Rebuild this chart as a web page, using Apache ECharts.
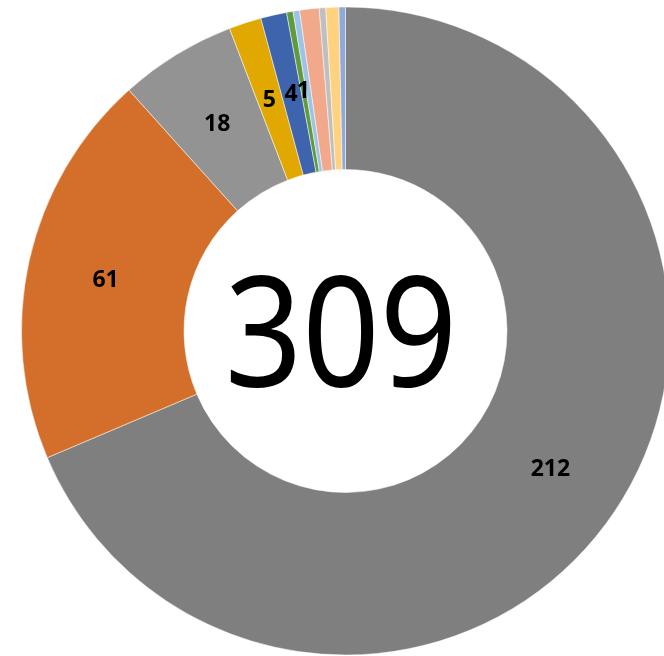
<!DOCTYPE html>
<html>
<head>
<meta charset="utf-8">
<script src="https://cdn.jsdelivr.net/npm/echarts@6/dist/echarts.min.js"></script>
<style>
html,body{margin:0;padding:0;background:#fff;}
#chart{width:664px;height:656px;}
</style>
</head>
<body>
<div id="chart"></div>
<script>
// Slices, clockwise from 12 o'clock
const categories = ['A', 'B', 'C', 'D', 'E', 'F', 'G', 'H', 'I', 'J', 'K'];
const values = [212, 61, 18, 5, 4, 1, 1, 3, 1, 2, 1];
const showLabel = [true, true, true, true, true, true, false, false, false, false, false];
const colors = ['#7F7F7F', '#D36F2B', '#939393', '#E0A800', '#3D64AD', '#5F9A3E', '#9DC3E6', '#F1A88B', '#BFBFBF', '#FFD27F', '#8FA9DB'];
const totalLabel = '309';

const chart = echarts.init(document.getElementById('chart'), null, {renderer: 'canvas'});
const data = categories.map((c, i) => ({
  name: c,
  value: values[i],
  itemStyle: {color: colors[i]},
  label: {show: showLabel[i]}
}));
chart.setOption({
  animation: false,
  series: [{
    type: 'pie',
    center: [345.5, 331],
    radius: [161.5, 324],
    startAngle: 90,
    clockwise: true,
    avoidLabelOverlap: false,
    minShowLabelAngle: 0,
    itemStyle: {borderColor: '#ffffff', borderWidth: 0.5},
    label: {
      position: 'inside',
      formatter: '{c}',
      color: '#000',
      fontFamily: 'Noto Sans',
      fontWeight: 'bold',
      fontSize: 23,
      offset: [0, 3]
    },
    labelLayout: {hideOverlap: false},
    labelLine: {show: false},
    emphasis: {disabled: true},
    data: data
  }],
  graphic: [{
    type: 'text',
    x: 341,
    y: 342,
    scaleX: 0.88,
    style: {
      text: totalLabel,
      font: '154px "Noto Sans"',
      fill: '#000',
      align: 'center',
      verticalAlign: 'middle'
    }
  }]
});
</script>
</body>
</html>
